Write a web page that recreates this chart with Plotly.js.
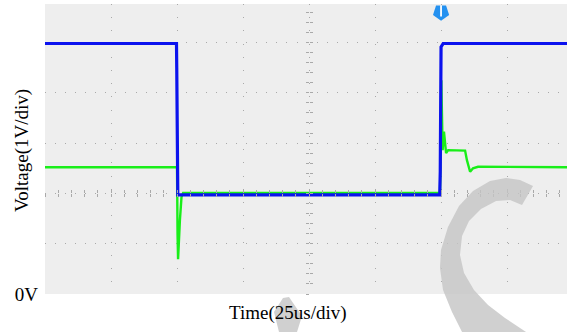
<!DOCTYPE html>
<html>
<head>
<meta charset="utf-8">
<script src="https://cdn.plot.ly/plotly-3.0.1.min.js"></script>
<style>
  html, body { margin: 0; padding: 0; background: #ffffff; }
  #scope { width: 572px; height: 332px; }
</style>
</head>
<body>
<div id="scope"></div>
<script>
// Time base: 25 us per division, 1 V per division.
const usPerDiv = 25;
const voltPerDiv = 1;
const timeSpan = 197.7;      // visible time window (us)
const voltSpan = 5.765;      // visible voltage window (V)
const triggerTime = 150;     // trigger position (us)
const triggerLevel = 5.6;

// Channel 1 (blue): switching waveform
const timeBlue = [0, 49.8, 49.9, 50.3, 149.5, 149.7, 150.0, 150.8, 197.7];
const voltBlue = [4.98, 4.98, 4.5, 1.97, 1.97, 2.43, 4.91, 4.98, 4.98];

// Channel 2 (green): response with transients at each edge
const timeGreen = [0, 50.0, 50.2, 50.4, 51.1, 51.7, 52.3, 149.6, 149.9, 150.1, 150.6,
                   151.1, 151.9, 152.7, 159.1, 159.8, 161.0, 162.1, 164.0, 197.7];
const voltGreen = [2.52, 2.52, 1.2, 0.69, 1.47, 1.93, 2.01, 2.01, 3.0, 4.25, 2.86,
                   3.23, 2.80, 2.86, 2.85, 2.66, 2.43, 2.50, 2.53, 2.52];

const yTickVals = [0];
const yTickText = ['0V'];

// plot frame in pixels
const L = 45, R = 567, T = 4, B = 294;
const px = x => (x - L) / (R - L);
const py = y => (B - y) / (B - T);
function pathFrom(pts) {
  return 'M ' + pts.map(p => px(p[0]).toFixed(4) + ',' + py(p[1]).toFixed(4)).join(' L ') + ' Z';
}

const serif = 'Liberation Serif, Times New Roman, serif';
const gridCol = '#a9a9a9';

const traces = [
  { x: timeGreen, y: voltGreen, type: 'scatter', mode: 'lines',
    line: { color: '#19ee19', width: 2.4 }, hoverinfo: 'skip', showlegend: false },
  { x: timeBlue, y: voltBlue, type: 'scatter', mode: 'lines',
    line: { color: '#0b12ee', width: 3.2 }, hoverinfo: 'skip', showlegend: false },
  // trigger marker at top of screen
  { x: [triggerTime], y: [triggerLevel], type: 'scatter', mode: 'markers',
    marker: { symbol: 'pentagon', angle: 180, size: 17, color: '#2491f0',
              line: { width: 0 } },
    cliponaxis: false, hoverinfo: 'skip', showlegend: false },
  { x: [triggerTime], y: [triggerLevel + 0.03], type: 'scatter', mode: 'markers',
    marker: { symbol: 'line-ns', size: 8, line: { color: '#ffffff', width: 1.8 } },
    cliponaxis: false, hoverinfo: 'skip', showlegend: false },
  // carriers for the centre graticule tick axes
  { x: [], y: [], xaxis: 'x2', yaxis: 'y', hoverinfo: 'skip', showlegend: false },
  { x: [], y: [], xaxis: 'x3', yaxis: 'y', hoverinfo: 'skip', showlegend: false },
  { x: [], y: [], xaxis: 'x', yaxis: 'y2', hoverinfo: 'skip', showlegend: false },
  { x: [], y: [], xaxis: 'x', yaxis: 'y3', hoverinfo: 'skip', showlegend: false }
];

const centerTickAxisX = (ticks) => ({
  overlaying: 'x', anchor: 'free', position: 2 / voltSpan, range: [0, timeSpan],
  showgrid: false, zeroline: false, showline: false, showticklabels: false,
  ticks: ticks, ticklen: 3, tickwidth: 1, tickcolor: gridCol,
  tick0: 0, dtick: usPerDiv / 5, side: 'bottom', fixedrange: true
});
const centerTickAxisY = (ticks) => ({
  overlaying: 'y', anchor: 'free', position: 100 / timeSpan, range: [0, voltSpan],
  showgrid: false, zeroline: false, showline: false, showticklabels: false,
  ticks: ticks, ticklen: 3, tickwidth: 1, tickcolor: gridCol,
  tick0: 0, dtick: voltPerDiv / 5, side: 'left', fixedrange: true
});

const layout = {
  width: 572, height: 332,
  margin: { l: L, r: 572 - R, t: T, b: 332 - B },
  paper_bgcolor: '#ffffff',
  plot_bgcolor: '#eeeeee',
  font: { family: serif, color: '#000000', size: 19 },
  xaxis: {
    range: [0, timeSpan], tick0: 0, dtick: usPerDiv,
    showgrid: true, gridcolor: gridCol, gridwidth: 1, griddash: '1px,12.2px',
    zeroline: false, showline: false, showticklabels: false,
    ticks: '', fixedrange: true
  },
  yaxis: {
    range: [0, voltSpan], tickmode: 'array', tickvals: yTickVals, ticktext: yTickText,
    showgrid: false, zeroline: false, showline: false,
    ticks: '', ticklabelstandoff: 6, tickfont: { family: serif, size: 19 },
    fixedrange: true
  },
  yaxis4: {
    overlaying: 'y', range: [0, voltSpan], tick0: 0, dtick: voltPerDiv,
    showgrid: true, gridcolor: gridCol, gridwidth: 1, griddash: '1px,9.06px',
    zeroline: false, showline: false, showticklabels: false, ticks: '', fixedrange: true
  },
  xaxis2: centerTickAxisX('inside'),
  xaxis3: centerTickAxisX('outside'),
  yaxis2: centerTickAxisY('inside'),
  yaxis3: centerTickAxisY('outside'),
  shapes: [
    // large grey crescent over the right half
    { type: 'path', xref: 'paper', yref: 'paper', layer: 'above',
      fillcolor: '#c4c4c4', opacity: 0.8, line: { width: 0 },
      path: pathFrom([[533, 186], [520, 180], [506, 178], [490, 181], [473, 191],
                      [459, 206], [448, 227], [441, 250], [440, 268], [443, 290],
                      [452, 312], [462, 332], [526, 332], [505, 318], [488, 305],
                      [474, 290], [464, 273], [460, 255], [462, 236], [469, 221],
                      [481, 209], [496, 201], [510, 200], [522, 205]]) },
    // small grey patch behind the time label
    { type: 'path', xref: 'paper', yref: 'paper', layer: 'above',
      fillcolor: '#c4c4c4', opacity: 0.8, line: { width: 0 },
      path: pathFrom([[274, 312], [283, 298], [289, 297], [302, 316], [297, 332], [279, 332]]) }
  ],
  annotations: [
    { text: 'Voltage(1V/div)', xref: 'paper', yref: 'paper',
      x: px(22), y: py(151), textangle: -90, showarrow: false,
      xanchor: 'center', yanchor: 'middle', font: { family: serif, size: 19 } },
    { text: 'Time(25us/div)', xref: 'paper', yref: 'paper',
      x: px(287.5), y: py(313), showarrow: false,
      xanchor: 'center', yanchor: 'middle', font: { family: serif, size: 19 } }
  ]
};

// horizontal dotted grid lines come from yaxis4
traces.push({ x: [], y: [], xaxis: 'x', yaxis: 'y4', hoverinfo: 'skip', showlegend: false });

Plotly.newPlot('scope', traces, layout, { staticPlot: true, displayModeBar: false });
</script>
</body>
</html>
